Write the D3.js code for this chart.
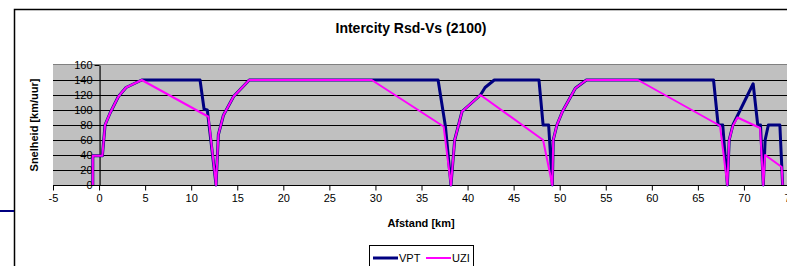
<!DOCTYPE html>
<html>
<head>
<meta charset="utf-8">
<script src="https://cdn.jsdelivr.net/npm/d3@7"></script>
<style>
  body { margin: 0; background: #fff; }
  text { font-family: "Liberation Sans", Arial, sans-serif; }
</style>
</head>
<body>
<div id="chart"></div>
<script>
// afstand [km] en snelheid [km/uur]
var vptKm = [-0.68, -0.68, 0.36, 0.65, 1.2, 2.1, 2.93, 4.63, 10.96, 11.4, 11.75, 12.7,
             12.95, 13.5, 14.6, 16.3, 36.8, 37.6, 38.2,
             38.6, 39.4, 41.4, 41.9, 42.9, 47.75, 48.2, 48.8, 49.2,
             49.3, 49.7, 50.3, 51.7, 52.9, 66.7, 67.2, 67.7, 68.2,
             68.4, 68.8, 71.0, 71.5, 71.8, 72.1,
             72.3, 72.65, 73.9, 74.2];
var vptV  = [0, 39, 39, 80, 96, 118, 130, 140, 140, 101, 100, 0,
             67, 93, 118, 140, 140, 78, 0,
             60, 98, 120, 130, 140, 140, 80, 80, 0,
             60, 80, 98, 129, 140, 140, 80, 80, 0,
             60, 80, 135, 80, 80, 0,
             60, 80, 80, 0];

var uziKm = [-0.68, -0.68, 0.36, 0.65, 1.2, 2.1, 2.93, 4.63, 11.87, 12.7,
             12.95, 13.5, 14.6, 16.3, 29.6, 37.4, 38.2,
             38.6, 39.4, 41.4, 48.2, 49.2,
             49.3, 49.7, 50.3, 51.7, 52.9, 58.5, 67.4, 68.2,
             68.4, 68.8, 69.3, 71.75, 72.1,
             72.3, 74.1, 74.2];
var uziV  = [0, 39, 39, 80, 96, 118, 130, 140, 91, 0,
             67, 93, 118, 140, 140, 78, 0,
             60, 98, 120, 60, 0,
             60, 80, 98, 129, 140, 140, 79, 0,
             60, 79, 90, 76, 0,
             40, 24, 0];

var xTicks = [-5, 0, 5, 10, 15, 20, 25, 30, 35, 40, 45, 50, 55, 60, 65, 70, 75];
var yTicks = [0, 20, 40, 60, 80, 100, 120, 140, 160];

var seriesNames = ["VPT", "UZI"];
var seriesColors = ["#000080", "#ff00ff"];

var W = 787, H = 266;
var svg = d3.select("#chart").append("svg")
    .attr("width", W).attr("height", H);

// kader van de grafiek
svg.append("rect")
    .attr("x", 14.5).attr("y", 9.5)
    .attr("width", 800).attr("height", 300)
    .attr("fill", "none").attr("stroke", "#000").attr("stroke-width", 1.5);
svg.append("line")
    .attr("x1", 0).attr("x2", 14).attr("y1", 211).attr("y2", 211)
    .attr("stroke", "#000080").attr("stroke-width", 2);

var x = d3.scaleLinear().domain([-5, 75]).range([53, 790]);
var y = d3.scaleLinear().domain([0, 160]).range([185, 65]);

// grijze achtergrond
svg.append("rect")
    .attr("x", x(-5)).attr("y", y(160) - 1)
    .attr("width", x(75) - x(-5)).attr("height", y(0) - y(160) + 1)
    .attr("fill", "#c0c0c0");
svg.append("line")
    .attr("x1", x(-5)).attr("x2", W)
    .attr("y1", y(160) - 0.5).attr("y2", y(160) - 0.5)
    .attr("stroke", "#808080").attr("stroke-width", 1);

svg.append("g").selectAll("line")
    .data(yTicks.filter(function(d) { return d > 0 && d < 160; }))
    .join("line")
    .attr("x1", x(-5)).attr("x2", W)
    .attr("y1", function(d) { return Math.round(y(d)) + 0.5; })
    .attr("y2", function(d) { return Math.round(y(d)) + 0.5; })
    .attr("stroke", "#000").attr("stroke-width", 1);

var plain = function(d) { return String(d); };
var xAxis = d3.axisBottom(x).tickValues(xTicks).tickFormat(plain).tickSize(5).tickSizeOuter(0);
var yAxis = d3.axisLeft(y).tickValues(yTicks).tickFormat(plain).tickSize(5).tickSizeOuter(0);

var gx = svg.append("g")
    .attr("transform", "translate(0," + (y(0) + 0.5) + ")")
    .call(xAxis);
var gy = svg.append("g")
    .attr("transform", "translate(" + (x(0) + 0.5) + ",0)")
    .call(yAxis);
[gx, gy].forEach(function(g) {
    g.select(".domain").attr("stroke", "#000").attr("stroke-width", 1.2);
    g.selectAll(".tick line").attr("stroke", "#000");
    g.selectAll("text")
        .attr("fill", "#000")
        .style("font-size", "11px")
        .style("font-family", "'Liberation Sans', Arial, sans-serif");
});
gx.select(".domain").attr("d", "M" + x(-5) + ",0H" + W);
gy.selectAll("text").attr("x", -7);
gx.selectAll("text").attr("y", 9);

var line = d3.line()
    .x(function(d) { return x(d[0]); })
    .y(function(d) { return y(d[1]); });

var vpt = d3.zip(vptKm, vptV);
var uzi = d3.zip(uziKm, uziV);

svg.append("defs").append("clipPath").attr("id", "clip")
    .append("rect").attr("x", x(-5)).attr("y", 0)
    .attr("width", W).attr("height", y(0) + 2);

svg.append("path")
    .datum(vpt)
    .attr("clip-path", "url(#clip)")
    .attr("fill", "none")
    .attr("stroke", seriesColors[0])
    .attr("stroke-width", 3)
    .attr("stroke-linejoin", "round")
    .attr("d", line);
svg.append("path")
    .datum(uzi)
    .attr("clip-path", "url(#clip)")
    .attr("fill", "none")
    .attr("stroke", seriesColors[1])
    .attr("stroke-width", 2)
    .attr("stroke-linejoin", "round")
    .attr("d", line);

// titels
svg.append("text")
    .attr("x", 411).attr("y", 33)
    .attr("text-anchor", "middle")
    .style("font-size", "14px").style("font-weight", "bold")
    .text("Intercity Rsd-Vs (2100)");
svg.append("text")
    .attr("x", 421).attr("y", 227)
    .attr("text-anchor", "middle")
    .style("font-size", "11px").style("font-weight", "bold")
    .text("Afstand [km]");
svg.append("text")
    .attr("transform", "translate(38,125) rotate(-90)")
    .attr("text-anchor", "middle")
    .style("font-size", "11px").style("font-weight", "bold")
    .text("Snelheid [km/uur]");

// legenda
var lg = svg.append("g").attr("transform", "translate(369,245)");
lg.append("rect")
    .attr("x", 0.5).attr("y", 0.5).attr("width", 104).attr("height", 30)
    .attr("fill", "#fff").attr("stroke", "#000");
seriesNames.forEach(function(name, i) {
    var ox = 4 + i * 53;
    lg.append("line")
        .attr("x1", ox).attr("x2", ox + 25)
        .attr("y1", 13).attr("y2", 13)
        .attr("stroke", seriesColors[i])
        .attr("stroke-width", i === 0 ? 3 : 2);
    lg.append("text")
        .attr("x", ox + 26).attr("y", 17)
        .style("font-size", "11px")
        .text(name);
});
</script>
</body>
</html>
